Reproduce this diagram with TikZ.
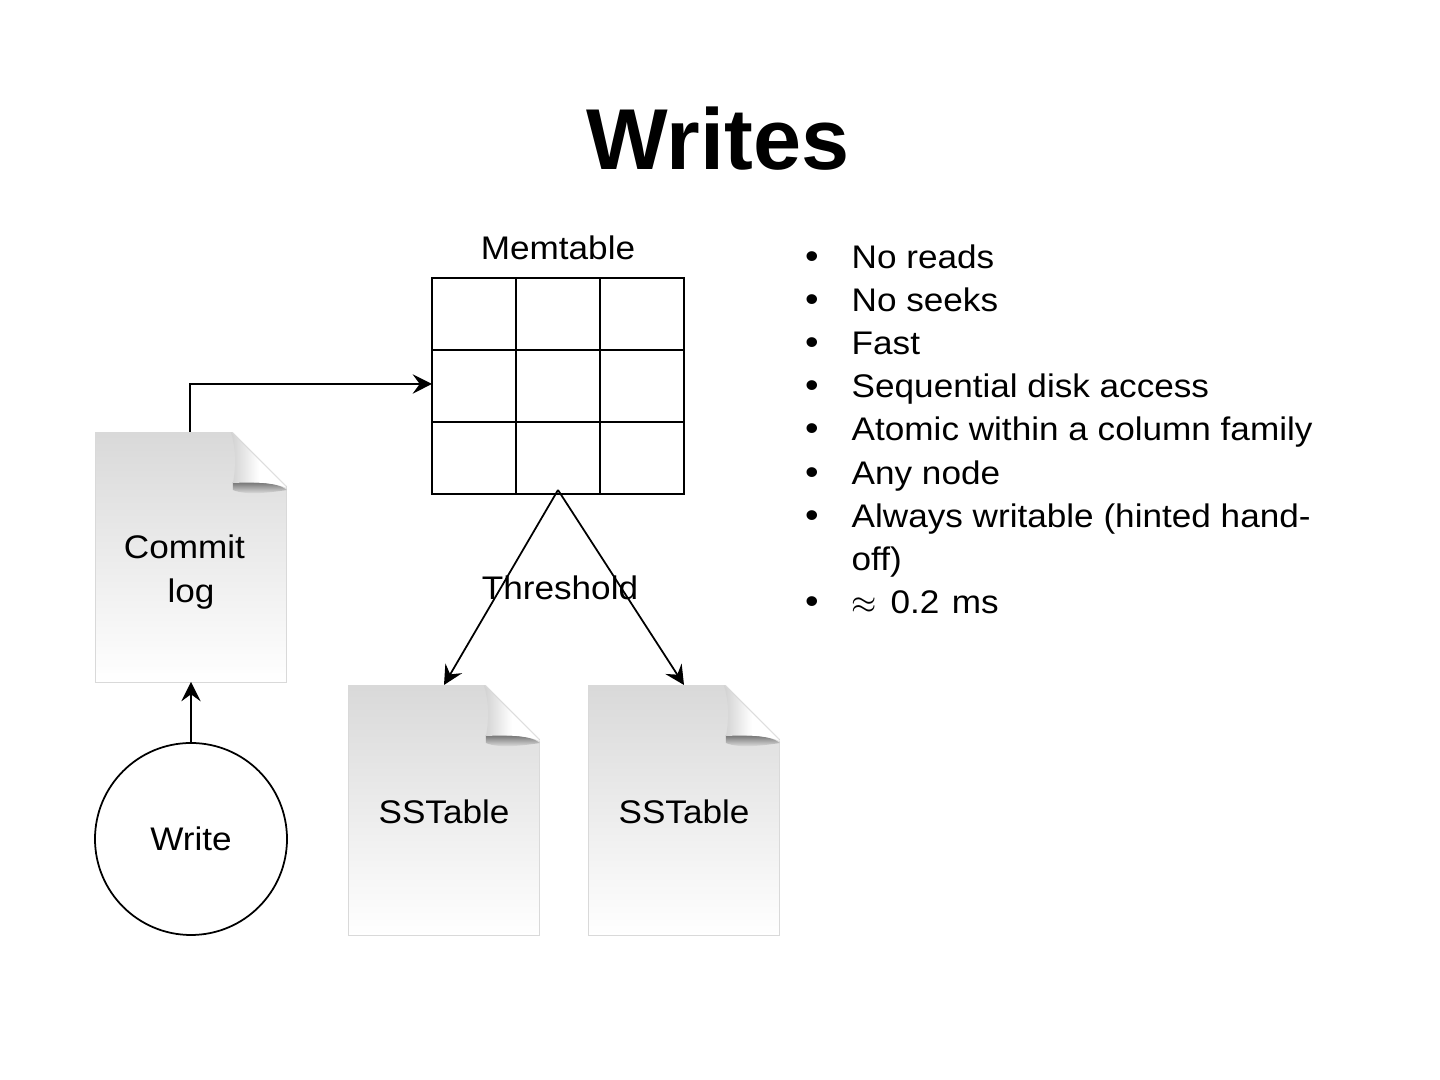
\documentclass[tikz,border=0pt]{standalone}
\usepackage{fontspec}
\setmainfont[FakeStretch=1.075]{Liberation Sans}
\newfontfamily\titlefont{Liberation Sans}
\usetikzlibrary{arrows.meta,positioning}
\newcommand{\docfold}[1]{%
    % folded corner of a page node
    \fill[white] ([xshift=-56*0.01cm,yshift=2*0.01cm]#1.north east) -- ([xshift=2*0.01cm,yshift=2*0.01cm]#1.north east) -- ([xshift=2*0.01cm,yshift=-56*0.01cm]#1.north east) -- cycle;
    \shade[top color=black!55, bottom color=black!4] ([xshift=-54*0.01cm,yshift=-50*0.01cm]#1.north east) .. controls ([xshift=-30*0.01cm,yshift=-50*0.01cm]#1.north east) and ([xshift=-10*0.01cm,yshift=-50*0.01cm]#1.north east) .. ([yshift=-58*0.01cm]#1.north east) .. controls ([xshift=-14*0.01cm,yshift=-60*0.01cm]#1.north east) and ([xshift=-40*0.01cm,yshift=-64*0.01cm]#1.north east) .. ([xshift=-54*0.01cm,yshift=-58*0.01cm]#1.north east) -- cycle;
    \shade[left color=black!18, right color=white, middle color=white] ([xshift=-56*0.01cm]#1.north east) -- ([yshift=-56*0.01cm]#1.north east) .. controls ([xshift=-14*0.01cm,yshift=-50*0.01cm]#1.north east) and ([xshift=-34*0.01cm,yshift=-50*0.01cm]#1.north east) .. ([xshift=-54*0.01cm,yshift=-51*0.01cm]#1.north east) .. controls ([xshift=-50*0.01cm,yshift=-30*0.01cm]#1.north east) and ([xshift=-52*0.01cm,yshift=-14*0.01cm]#1.north east) .. cycle;
}
\begin{document}
\begin{tikzpicture}[
    every node/.style={font=\fontsize{9.3}{12.4}\selectfont},
    page/.style={draw=black!15, line width=0.25pt, top color=black!15, bottom color=white, minimum width=1.91cm, minimum height=2.5cm, inner sep=0pt},
    cell/.style={draw, line width=0.5pt, minimum width=0.84cm, minimum height=0.72cm, inner sep=0pt, anchor=north west},
    arrow/.style={-{Stealth[length=5.5pt, width=5.5pt, inset=2pt]}, line width=0.5pt},
    item/.style={anchor=base west, inner sep=0pt},
    dot/.style={anchor=base, inner sep=0pt, scale=1.1}
]
    \useasboundingbox (0, 0) rectangle (14.4, 10.8);
    \node[font=\fontsize{24.6}{30}\titlefont\bfseries] (title) at (7.18, 9.41) {Writes};

    % memtable grid
    \foreach \r in {0, 1, 2} {
        \foreach \c in {0, 1, 2} {
            \node[cell] (c\r\c) at (4.31 + 0.84*\c, 8.03 - 0.72*\r) {};
        }
    }
    \node (memlabel) at (5.58, 8.32) {Memtable};

    \node[page] (commit) at (1.91, 5.225) {};
    \node[page] (sst1) at (4.44, 2.695) {};
    \node[page] (sst2) at (6.84, 2.695) {};
    \docfold{commit}
    \docfold{sst1}
    \docfold{sst2}

    \node[align=center] (commitlabel) at (1.91, 5.08) {Commit\rule{0.4em}{0pt}\\log};
    \node (sstlabel1) at (4.44, 2.68) {SSTable};
    \node (sstlabel2) at (6.84, 2.68) {SSTable};

    \node[draw, circle, line width=0.5pt, minimum size=1.92cm, inner sep=0pt] (write) at (1.91, 2.41) {Write};
    \node (threshold) at (5.6, 4.92) {Threshold};

    \coordinate (memin) at (4.32, 6.96);
    \coordinate (memout) at (5.58, 5.9);
    \coordinate (commitin) at (1.91, 3.98);
    \coordinate (commitout) at (1.9, 6.48);
    \coordinate (sstin1) at (4.44, 3.95);
    \coordinate (sstin2) at (6.84, 3.95);

    \draw[arrow] (commitout) |- (memin);
    \draw[arrow] (write.north) -- (commitin);
    \draw[arrow] (memout) -- (sstin1);
    \draw[arrow] (memout) -- (sstin2);

    % bullet list
    \foreach \y/\txt in {8.11/No reads, 7.68/No seeks, 7.25/Fast, 6.82/Sequential disk access, 6.39/Atomic within a column family, 5.95/Any node, 5.52/Always writable (hinted hand-, 4.66/$\approx$\hspace{0.12em} 0.2\hspace{0.08em} ms} {
        \node[dot] at (8.12, \y) {\textbullet};
        \node[item] at (8.51, \y) {\txt};
    }
    \node[item] (offline) at (8.51, 5.09) {off)};
\end{tikzpicture}
\end{document}
